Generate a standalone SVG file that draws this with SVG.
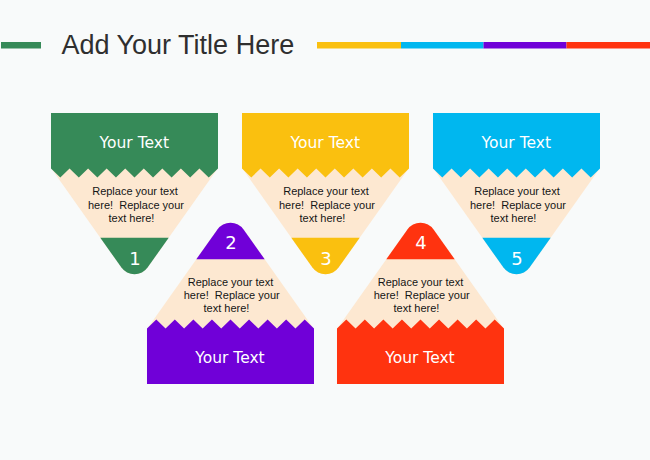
<svg xmlns="http://www.w3.org/2000/svg" xmlns:xlink="http://www.w3.org/1999/xlink" width="650" height="460" viewBox="0 0 650 460">
  <style>
    .title { font-family: "Liberation Sans", Arial, sans-serif; font-size: 27px; fill: #2f2f2f; }
    .head { font-family: "DejaVu Sans", "Comic Sans MS", sans-serif; font-size: 15.5px; fill: #ffffff; text-anchor: middle; }
    .num { font-family: "DejaVu Sans", Verdana, sans-serif; font-size: 18px; fill: #ffffff; text-anchor: middle; }
    .body { font-family: "Liberation Sans", Arial, sans-serif; font-size: 11px; fill: #151515; text-anchor: middle; white-space: pre; }
    .wood { fill: #FDE8D1; }
    .green { fill: #368A58; }
    .yellow { fill: #FAC00F; }
    .blue { fill: #00B7EF; }
    .purple { fill: #7000D8; }
    .red { fill: #FF330F; }
  </style>
  <defs>
    <path id="body" d="M-83.5,166 H83.5 V168 L13.06,267.58 A16,16 0 0 1 -13.06,267.58 L-83.5,168 Z"/>
    <path id="tip" d="M-34.2,237.7 H34.2 L13.06,267.58 A16,16 0 0 1 -13.06,267.58 Z"/>
    <path id="cap" d="M-83.5,113 H83.5 V168.5 l-9.278,9 l-9.278,-9 l-9.278,9 l-9.278,-9 l-9.278,9 l-9.278,-9 l-9.278,9 l-9.278,-9 l-9.278,9 l-9.278,-9 l-9.278,9 l-9.278,-9 l-9.278,9 l-9.278,-9 l-9.278,9 l-9.278,-9 l-9.278,9 l-9.278,-9 Z"/>
  </defs>

  <rect x="0" y="0" width="650" height="460" fill="#F8FAFA"/>

  <g id="header">
    <rect x="1" y="42" width="40" height="6.5" class="green"/>
    <text x="61.5" y="54.3" class="title">Add Your Title Here</text>
    <rect x="317" y="42" width="84" height="6.5" class="yellow"/>
    <rect x="401" y="42" width="82.5" height="6.5" class="blue"/>
    <rect x="483.5" y="42" width="83" height="6.5" class="purple"/>
    <rect x="566.5" y="42" width="83.5" height="6.5" class="red"/>
  </g>

  <g id="connectors"></g>

  <g id="pencil1">
    <g transform="translate(134.5,0)">
      <use xlink:href="#body" class="wood"/>
      <use xlink:href="#tip" class="green"/>
      <use xlink:href="#cap" class="green"/>
    </g>
    <text x="134.3" y="147.7" class="head">Your Text</text>
    <text x="135" y="195" class="body">Replace your text</text>
    <text x="136" y="208.5" class="body">here!  Replace your</text>
    <text x="131.5" y="221.5" class="body">text here!</text>
    <text x="135" y="264.5" class="num">1</text>
  </g>

  <g id="pencil3">
    <g transform="translate(325.5,0)">
      <use xlink:href="#body" class="wood"/>
      <use xlink:href="#tip" class="yellow"/>
      <use xlink:href="#cap" class="yellow"/>
    </g>
    <text x="325.3" y="147.7" class="head">Your Text</text>
    <text x="326" y="195" class="body">Replace your text</text>
    <text x="327" y="208.5" class="body">here!  Replace your</text>
    <text x="322.5" y="221.5" class="body">text here!</text>
    <text x="326" y="264.5" class="num">3</text>
  </g>

  <g id="pencil5">
    <g transform="translate(516.5,0)">
      <use xlink:href="#body" class="wood"/>
      <use xlink:href="#tip" class="blue"/>
      <use xlink:href="#cap" class="blue"/>
    </g>
    <text x="516.3" y="147.7" class="head">Your Text</text>
    <text x="517" y="195" class="body">Replace your text</text>
    <text x="518" y="208.5" class="body">here!  Replace your</text>
    <text x="513.5" y="221.5" class="body">text here!</text>
    <text x="517" y="264.5" class="num">5</text>
  </g>

  <g id="pencil2">
    <g transform="translate(230.5,497) scale(1,-1)">
      <use xlink:href="#body" class="wood"/>
      <use xlink:href="#tip" class="purple"/>
      <use xlink:href="#cap" class="purple"/>
    </g>
    <text x="230" y="363" class="head">Your Text</text>
    <text x="230.5" y="285.5" class="body">Replace your text</text>
    <text x="231.7" y="299" class="body">here!  Replace your</text>
    <text x="226.5" y="312" class="body">text here!</text>
    <text x="231" y="249" class="num">2</text>
  </g>

  <g id="pencil4">
    <g transform="translate(420.5,497) scale(1,-1)">
      <use xlink:href="#body" class="wood"/>
      <use xlink:href="#tip" class="red"/>
      <use xlink:href="#cap" class="red"/>
    </g>
    <text x="420" y="363" class="head">Your Text</text>
    <text x="420.5" y="285.5" class="body">Replace your text</text>
    <text x="421.7" y="299" class="body">here!  Replace your</text>
    <text x="416.5" y="312" class="body">text here!</text>
    <text x="421" y="249" class="num">4</text>
  </g>
</svg>
